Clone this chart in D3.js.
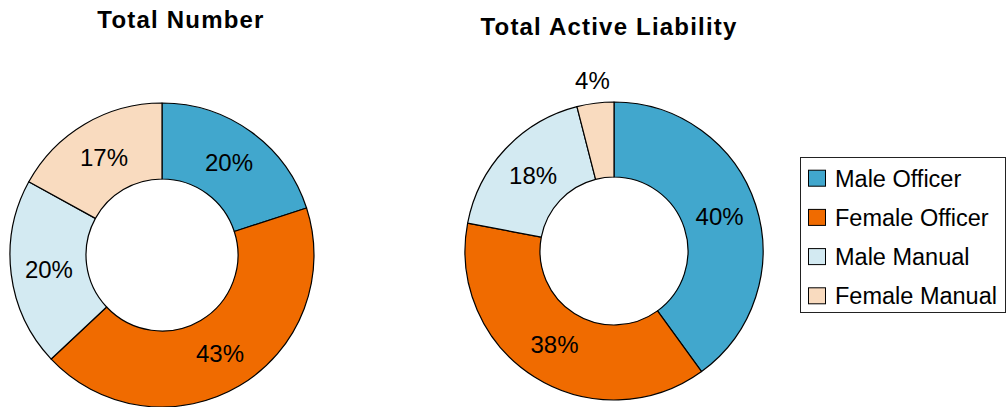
<!DOCTYPE html>
<html>
<head>
<meta charset="utf-8">
<script src="https://cdn.jsdelivr.net/npm/d3@7"></script>
<style>
  html, body { margin: 0; padding: 0; background: #fff; }
  svg { display: block; font-family: "Liberation Sans", Arial, sans-serif; }
</style>
</head>
<body>
<svg id="chart" width="1008" height="407"></svg>
<script>
// Workforce split: head count vs. share of active liability
const categories = ["Male Officer", "Female Officer", "Male Manual", "Female Manual"];
const totalNumber = [20, 43, 20, 17];
const activeLiability = [40, 38, 18, 4];
const chartTitles = ["Total Number", "Total Active Liability"];
const colors = ["#41a7cd", "#f06b00", "#d3eaf2", "#f9dbbf"];

const svg = d3.select("#chart");
const color = d3.scaleOrdinal().domain(categories).range(colors);

const pie = d3.pie().sort(null).value(d => d.value);

function donut(values, title, cfg) {
  const data = categories.map((c, i) => ({ name: c, value: values[i] }));
  const arcs = pie(data);
  const arc = d3.arc().innerRadius(cfg.inner).outerRadius(cfg.outer);
  const labelArc = d3.arc().innerRadius(cfg.labelR).outerRadius(cfg.labelR);
  const outsideArc = d3.arc().innerRadius(cfg.outer + 23).outerRadius(cfg.outer + 23);

  const g = svg.append("g").attr("transform", `translate(${cfg.cx},${cfg.cy})`);

  g.selectAll("path.slice")
    .data(arcs)
    .join("path")
    .attr("class", "slice")
    .attr("d", arc)
    .attr("fill", d => color(d.data.name))
    .attr("stroke", "#000")
    .attr("stroke-width", 1.2)
    .attr("stroke-linejoin", "round");

  g.selectAll("text.pct")
    .data(arcs)
    .join("text")
    .attr("class", "pct")
    .attr("transform", d => {
      const p = (d.data.value < 5 ? outsideArc : labelArc).centroid(d);
      return `translate(${p[0]},${p[1]})`;
    })
    .attr("text-anchor", "middle")
    .attr("dy", "0.36em")
    .attr("font-size", 24)
    .attr("fill", "#000")
    .text(d => d.data.value + "%");

  svg.append("text")
    .attr("x", cfg.titleX)
    .attr("y", cfg.titleY)
    .attr("text-anchor", "middle")
    .attr("font-size", 24)
    .attr("font-weight", "bold")
    .attr("letter-spacing", "1.2px")
    .attr("fill", "#000")
    .text(title);
}

donut(totalNumber, chartTitles[0], {
  cx: 162, cy: 255, inner: 76, outer: 152, labelR: 114, titleX: 181, titleY: 28
});
donut(activeLiability, chartTitles[1], {
  cx: 614, cy: 251, inner: 74, outer: 149, labelR: 111, titleX: 609, titleY: 35
});

// Legend
const legend = svg.append("g");
legend.append("rect")
  .attr("x", 800.5).attr("y", 157.5)
  .attr("width", 205).attr("height", 155)
  .attr("fill", "#fff")
  .attr("stroke", "#222")
  .attr("stroke-width", 1);

const rowY = d3.scalePoint().domain(categories).range([186.7, 304.3]);
const rows = legend.selectAll("g.row")
  .data(categories)
  .join("g")
  .attr("class", "row")
  .attr("transform", d => `translate(0,${rowY(d)})`);

rows.append("rect")
  .attr("x", 808.5).attr("y", -16.5)
  .attr("width", 17).attr("height", 16)
  .attr("fill", d => color(d))
  .attr("stroke", "#000")
  .attr("stroke-width", 1);

rows.append("text")
  .attr("x", 835)
  .attr("y", 0)
  .attr("font-size", 23.5)
  .attr("fill", "#000")
  .text(d => d);
</script>
</body>
</html>
